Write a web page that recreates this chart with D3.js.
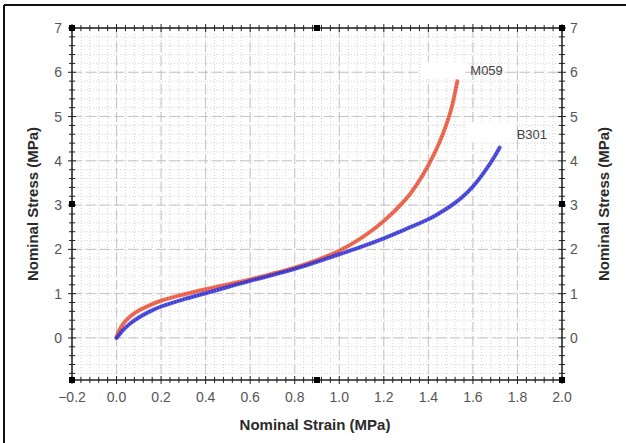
<!DOCTYPE html>
<html>
<head>
<meta charset="utf-8">
<script src="https://cdn.jsdelivr.net/npm/d3@7"></script>
<style>
  body { margin: 0; background: #fff; }
  svg { display: block; font-family: Arial, "Liberation Sans", sans-serif; }
</style>
</head>
<body>
<svg id="chart" width="626" height="443"></svg>
<script>
// values
const m059Strain = [0, 0.01, 0.03, 0.06, 0.1, 0.15, 0.2, 0.3, 0.4, 0.5, 0.6, 0.7, 0.8, 0.9, 1.0, 1.1, 1.2, 1.3, 1.35, 1.4, 1.45, 1.5, 1.53];
const m059Stress = [0.02, 0.15, 0.32, 0.48, 0.62, 0.74, 0.84, 0.98, 1.1, 1.21, 1.32, 1.45, 1.59, 1.76, 1.97, 2.26, 2.64, 3.14, 3.48, 3.9, 4.42, 5.12, 5.8];
const b301Strain = [0, 0.01, 0.03, 0.06, 0.1, 0.15, 0.2, 0.3, 0.4, 0.5, 0.6, 0.7, 0.8, 0.9, 1.0, 1.1, 1.2, 1.3, 1.4, 1.45, 1.5, 1.55, 1.6, 1.65, 1.7, 1.72];
const b301Stress = [0, 0.06, 0.18, 0.32, 0.46, 0.6, 0.71, 0.87, 1.01, 1.15, 1.29, 1.42, 1.56, 1.72, 1.89, 2.06, 2.25, 2.46, 2.68, 2.82, 2.98, 3.17, 3.42, 3.74, 4.12, 4.3];
const xTicks = [-0.2, 0, 0.2, 0.4, 0.6, 0.8, 1.0, 1.2, 1.4, 1.6, 1.8, 2.0];
const yTicks = [0, 1, 2, 3, 4, 5, 6, 7];
const seriesNames = ["M059", "B301"];
const seriesColors = ["#e8553a", "#3434d4"];

const svg = d3.select("#chart");
const pLeft = 72, pRight = 562, pTop = 28, pBottom = 380;

const x = d3.scaleLinear().domain([-0.2, 2.0]).range([pLeft, pRight]);
const y = d3.scaleLinear().domain([-0.95, 7]).range([pBottom, pTop]);

// outer frame (only top and left edges visible)
svg.append("line").attr("x1", 4).attr("x2", 626).attr("y1", 5).attr("y2", 5)
    .attr("stroke", "#111").attr("stroke-width", 2);
svg.append("line").attr("x1", 4).attr("x2", 4).attr("y1", 5).attr("y2", 443)
    .attr("stroke", "#111").attr("stroke-width", 2);

// minor grid
const xMinor = d3.range(-0.2, 2.0001, 0.04).map(d => +d.toFixed(2));
const yMinor = d3.range(-0.8, 7.0001, 0.2).map(d => +d.toFixed(1));
const grid = svg.append("g");
grid.selectAll(".vminor").data(xMinor).join("line")
    .attr("x1", d => x(d)).attr("x2", d => x(d)).attr("y1", pTop).attr("y2", pBottom)
    .attr("stroke", "#d4d4d4").attr("stroke-width", 1).attr("stroke-dasharray", "1,2");
grid.selectAll(".hminor").data(yMinor).join("line")
    .attr("x1", pLeft).attr("x2", pRight).attr("y1", d => y(d)).attr("y2", d => y(d))
    .attr("stroke", "#d4d4d4").attr("stroke-width", 1).attr("stroke-dasharray", "1,2");

// major grid (dashed)
grid.selectAll(".vmajor").data(xTicks).join("line")
    .attr("x1", d => x(d)).attr("x2", d => x(d)).attr("y1", pTop).attr("y2", pBottom)
    .attr("stroke", "#c4c4c4").attr("stroke-width", 1).attr("stroke-dasharray", "10,4");
grid.selectAll(".hmajor").data(yTicks).join("line")
    .attr("x1", pLeft).attr("x2", pRight).attr("y1", d => y(d)).attr("y2", d => y(d))
    .attr("stroke", "#c4c4c4").attr("stroke-width", 1).attr("stroke-dasharray", "10,4");

// axes frame
svg.append("rect").attr("x", pLeft).attr("y", pTop).attr("width", pRight - pLeft).attr("height", pBottom - pTop)
    .attr("fill", "none").attr("stroke", "#222").attr("stroke-width", 1.5);

// tick marks on all four sides
const ticks = svg.append("g").attr("stroke", "#222").attr("stroke-width", 1);
[pTop, pBottom].forEach(yy => {
    ticks.append("g").selectAll("line").data(xMinor).join("line")
        .attr("x1", d => x(d)).attr("x2", d => x(d))
        .attr("y1", d => yy - (xTicks.includes(d) ? 4 : 3)).attr("y2", d => yy + (xTicks.includes(d) ? 4 : 3));
});
[pLeft, pRight].forEach(xx => {
    ticks.append("g").selectAll("line").data(yMinor).join("line")
        .attr("y1", d => y(d)).attr("y2", d => y(d))
        .attr("x1", d => xx - (yTicks.includes(d) ? 4 : 3)).attr("x2", d => xx + (yTicks.includes(d) ? 4 : 3));
});

// handle squares
const midX = (pLeft + pRight) / 2, midY = (pTop + pBottom) / 2;
const handles = [];
[pLeft, midX, pRight].forEach(hx => [pTop, midY, pBottom].forEach(hy => {
    if (!(hx === midX && hy === midY)) handles.push([hx, hy]);
}));
svg.append("g").selectAll("rect").data(handles).join("rect")
    .attr("x", d => d[0] - 3).attr("y", d => d[1] - 3).attr("width", 6).attr("height", 6).attr("fill", "#000");

// tick labels
svg.append("g").selectAll("text").data(xTicks).join("text")
    .attr("x", d => x(d)).attr("y", 402).attr("text-anchor", "middle")
    .attr("font-size", 14).attr("fill", "#555").text(d => d3.format(".1f")(d));
svg.append("g").selectAll("text").data(yTicks).join("text")
    .attr("x", pLeft - 10).attr("y", d => y(d) + 5).attr("text-anchor", "end")
    .attr("font-size", 14).attr("fill", "#555").text(d => d);
svg.append("g").selectAll("text").data(yTicks).join("text")
    .attr("x", pRight + 8).attr("y", d => y(d) + 5).attr("text-anchor", "start")
    .attr("font-size", 14).attr("fill", "#555").text(d => d);

// axis titles
svg.append("text").attr("x", midX - 2).attr("y", 430).attr("text-anchor", "middle")
    .attr("font-size", 15).attr("font-weight", "bold").attr("fill", "#2a2a2a").text("Nominal Strain (MPa)");
svg.append("text").attr("transform", `translate(38,${midY}) rotate(-90)`)
    .attr("text-anchor", "middle").attr("font-size", 15).attr("font-weight", "bold").attr("fill", "#2a2a2a")
    .text("Nominal Stress (MPa)");
svg.append("text").attr("transform", `translate(609,${midY}) rotate(-90)`)
    .attr("text-anchor", "middle").attr("font-size", 15).attr("font-weight", "bold").attr("fill", "#2a2a2a")
    .text("Nominal Stress (MPa)");

// curves
const line = d3.line().x(d => x(d[0])).y(d => y(d[1])).curve(d3.curveCatmullRom.alpha(0.5));
const series = [
    { name: seriesNames[0], color: seriesColors[0], pts: d3.zip(m059Strain, m059Stress), box: [-37, 8, -19, -2], tx: 13, ty: -6 },
    { name: seriesNames[1], color: seriesColors[1], pts: d3.zip(b301Strain, b301Stress), box: [-33, 14, -24, -5], tx: 17, ty: -9 }
];
series.forEach(s => {
    svg.append("path").attr("d", line(s.pts)).attr("fill", "none")
        .attr("stroke", s.color).attr("stroke-width", 4).attr("stroke-opacity", 0.8).attr("stroke-linecap", "round");
    svg.append("path").attr("d", line(s.pts)).attr("fill", "none")
        .attr("stroke", s.color).attr("stroke-width", 2.5).attr("stroke-dasharray", "1.5,1.5");
});

// series labels with white boxes
series.forEach(s => {
    const last = s.pts[s.pts.length - 1];
    const px = x(last[0]), py = y(last[1]);
    svg.append("rect").attr("x", px + s.box[0]).attr("y", py + s.box[2])
        .attr("width", s.box[1] - s.box[0]).attr("height", s.box[3] - s.box[2]).attr("fill", "#fff");
    svg.append("text").attr("x", px + s.tx).attr("y", py + s.ty)
        .attr("font-size", 13).attr("fill", "#444").text(s.name);
});
</script>
</body>
</html>
